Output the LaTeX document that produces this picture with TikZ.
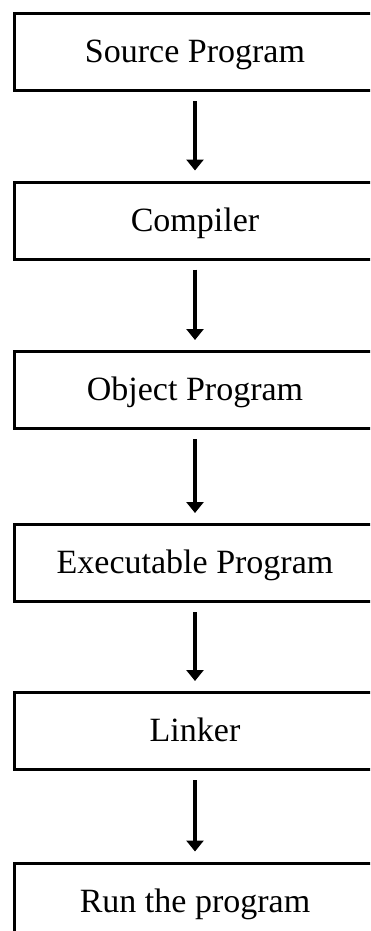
\documentclass[tikz,border=0pt]{standalone}
\usepackage{fontspec}
\setmainfont{Liberation Serif}
\usetikzlibrary{arrows.meta}
\tikzset{
  stepbox/.style={draw=black, line width=3pt, rectangle, minimum width=362pt,
    inner sep=0pt, text height=49pt, text depth=28pt,
    font=\fontsize{34pt}{40pt}\selectfont},
  flowarrow/.style={line width=3.5pt, -{Triangle[width=17pt,length=11pt]}}
}
\begin{document}
\begin{tikzpicture}[x=1pt,y=-1pt]
\useasboundingbox (0,0) rectangle (370,931);
\clip (0,0) rectangle (370,931);
\node[stepbox, anchor=north] (b1) at (195,12.5) {Source Program};
\node[stepbox, anchor=north] (b2) at (195,180.5) {Compiler};
\node[stepbox, anchor=north] (b3) at (195,350) {Object Program};
\node[stepbox, anchor=north] (b4) at (195,523) {Executable Program};
\node[stepbox, anchor=north] (b5) at (195,691) {Linker};
\node[stepbox, anchor=north] (b6) at (195,861.5) {Run the program};
\draw[flowarrow] ([yshift=-9pt]b1.south) -- ([yshift=10pt]b2.north);
\draw[flowarrow] ([yshift=-9pt]b2.south) -- ([yshift=10pt]b3.north);
\draw[flowarrow] ([yshift=-9pt]b3.south) -- ([yshift=10pt]b4.north);
\draw[flowarrow] ([yshift=-9pt]b4.south) -- ([yshift=10pt]b5.north);
\draw[flowarrow] ([yshift=-9pt]b5.south) -- ([yshift=10pt]b6.north);
\end{tikzpicture}
\end{document}
